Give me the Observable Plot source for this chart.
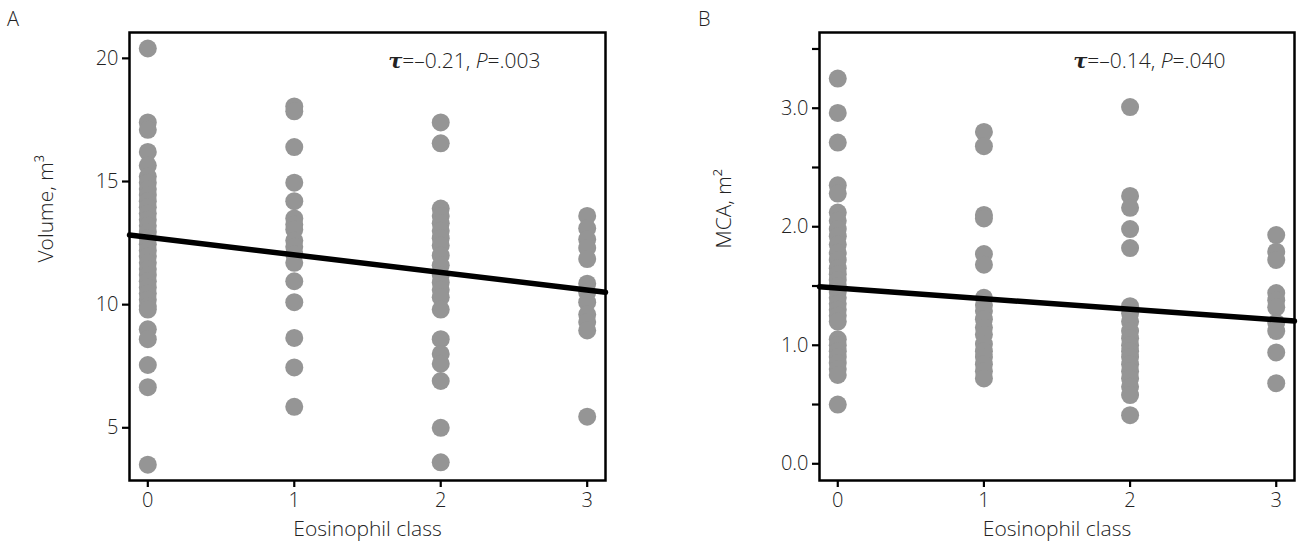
<!DOCTYPE html>
<html><head><meta charset="utf-8">
<script src="https://cdn.jsdelivr.net/npm/d3@7"></script>
<script src="https://cdn.jsdelivr.net/npm/@observablehq/plot@0.6"></script>
<style>
body{margin:0;background:#fff;}
#wrap{position:relative;width:1299px;height:548px;font-family:"Open Sans",sans-serif;color:#222;overflow:hidden;}
.panel{position:absolute;top:0;}
.letter{position:absolute;top:9px;font-size:20px;line-height:1;font-weight:300;}
svg text{font-weight:300;}
</style></head><body>
<div id="wrap">
<div id="pa" class="panel" style="left:0"></div>
<div id="pb" class="panel" style="left:650px"></div>
<div class="letter" style="left:7px">A</div>
<div class="letter" style="left:698px">B</div>
</div>
<script>
// Eosinophil classes
const classes = [0, 1, 2, 3];
const xDomain = [-0.125, 3.125];

// Panel A: Volume, m3
const volume0 = [20.4, 17.4, 17.1, 16.2, 15.65, 15.2, 14.95, 14.7, 14.45, 14.2, 13.95, 13.7, 13.45, 13.2, 12.95, 12.7, 12.45, 12.2, 11.95, 11.7, 11.45, 11.2, 10.95, 10.7, 10.45, 10.2, 9.95, 9.8, 9.0, 8.6, 7.55, 6.65, 3.5];
const volume1 = [18.05, 17.85, 16.4, 14.95, 14.2, 13.5, 13.25, 13.05, 12.6, 12.35, 12.05, 11.7, 10.95, 10.1, 8.65, 7.45, 5.85];
const volume2 = [17.4, 16.55, 13.9, 13.6, 13.3, 13.0, 12.7, 12.4, 12.0, 11.6, 11.2, 10.9, 10.6, 10.3, 9.8, 8.6, 8.0, 7.6, 6.9, 5.0, 3.6];
const volume3 = [13.6, 13.1, 12.65, 12.3, 11.85, 10.85, 10.5, 10.1, 9.6, 9.3, 8.95, 5.45];
const volumeTicks = [5, 10, 15, 20];
const volumeDomain = [2.86, 21.05];
const volumeFit = {intercept: 12.74, slope: -0.717};
const volumeStat = {tau: "–0.21", p: ".003"};

// Panel B: MCA, m2
const mca0 = [3.25, 2.96, 2.71, 2.35, 2.28, 2.12, 2.05, 1.98, 1.92, 1.85, 1.78, 1.72, 1.65, 1.6, 1.55, 1.5, 1.45, 1.4, 1.35, 1.3, 1.25, 1.2, 1.05, 1.0, 0.95, 0.9, 0.85, 0.8, 0.75, 0.5];
const mca1 = [2.8, 2.68, 2.1, 2.07, 1.77, 1.68, 1.4, 1.34, 1.29, 1.22, 1.15, 1.09, 1.01, 0.95, 0.9, 0.84, 0.78, 0.72];
const mca2 = [3.01, 2.26, 2.16, 1.98, 1.82, 1.33, 1.27, 1.2, 1.12, 1.06, 1.0, 0.95, 0.9, 0.84, 0.78, 0.72, 0.65, 0.58, 0.41];
const mca3 = [1.93, 1.79, 1.72, 1.44, 1.38, 1.32, 1.19, 1.12, 0.94, 0.68];
const mcaTicks = [0, 0.5, 1, 1.5, 2, 2.5, 3, 3.5];
const mcaDomain = [-0.141, 3.639];
const mcaFit = {intercept: 1.482, slope: -0.089};
const mcaStat = {tau: "–0.14", p: ".040"};

const xLabel = "Eosinophil class";

function rows(groups) {
  return classes.flatMap((c, i) => groups[i].map(v => ({cls: c, v})));
}

function panel(o) {
  const fitLine = xDomain.map(x => ({x, y: o.fit.intercept + o.fit.slope * x}));
  const plot = Plot.plot({
    width: o.width, height: 548,
    marginTop: 32, marginBottom: 68, marginLeft: o.marginLeft, marginRight: o.marginRight,
    x: {domain: xDomain},
    y: {domain: o.yDomain},
    style: {fontFamily: "Open Sans, sans-serif", fontSize: "20px", color: "#222", background: "white", overflow: "visible"},
    marks: [
      Plot.dot(o.data, {x: "cls", y: "v", r: 9, fill: "#959595"}),
      Plot.line(fitLine, {x: "x", y: "y", stroke: "black", strokeWidth: 5.5}),
      Plot.frame({stroke: "black", strokeWidth: 2.5}),
      Plot.axisX({ticks: classes, tickSize: 7, tickPadding: 5, strokeWidth: 2.2, stroke: "black", fontSize: 20, label: null, tickFormat: d => String(d)}),
      Plot.axisY({ticks: o.yTicks, tickSize: 7, tickPadding: 4, strokeWidth: 2.2, stroke: "black", fontSize: 20, label: null, tickFormat: o.yFormat}),
      Plot.text([xLabel], {frameAnchor: "bottom", dy: 55, fontSize: 21, text: d => d, fill: "#222"}),
      Plot.text([o.yLabel], {frameAnchor: "left", dx: o.labelDx, dy: o.labelDy, rotate: -90, fontSize: 21, text: d => d, fill: "#222"}),
      Plot.text([o.stat], {frameAnchor: "top-right", textAnchor: "end", dx: o.statDx, dy: 21, fontSize: 21, fill: "#222", text: d => `τ=${d.tau}, P=${d.p}`})
    ]
  });
  const s = o.stat;
  for (const t of plot.querySelectorAll("text")) {
    if (t.textContent.startsWith("τ=")) {
      t.innerHTML = `<tspan font-family="DejaVu Serif" font-style="italic" font-weight="bold">τ</tspan>=${s.tau}, <tspan font-style="italic">P</tspan>=${s.p}`;
    }
  }
  return plot;
}

document.getElementById("pa").appendChild(panel({
  width: 650, marginLeft: 129, marginRight: 45,
  data: rows([volume0, volume1, volume2, volume3]),
  yDomain: volumeDomain, yTicks: volumeTicks, yFormat: d => String(d),
  fit: volumeFit, stat: volumeStat, statDx: -65,
  yLabel: "Volume, m³", labelDx: -83, labelDy: 6
}));

document.getElementById("pb").appendChild(panel({
  width: 649, marginLeft: 169, marginRight: 5,
  data: rows([mca0, mca1, mca2, mca3]),
  yDomain: mcaDomain, yTicks: mcaTicks, yFormat: d => Number.isInteger(d) ? d.toFixed(1) : "",
  fit: mcaFit, stat: mcaStat, statDx: -69,
  yLabel: "MCA, m²", labelDx: -95, labelDy: -8
}));
</script>
</body></html>
